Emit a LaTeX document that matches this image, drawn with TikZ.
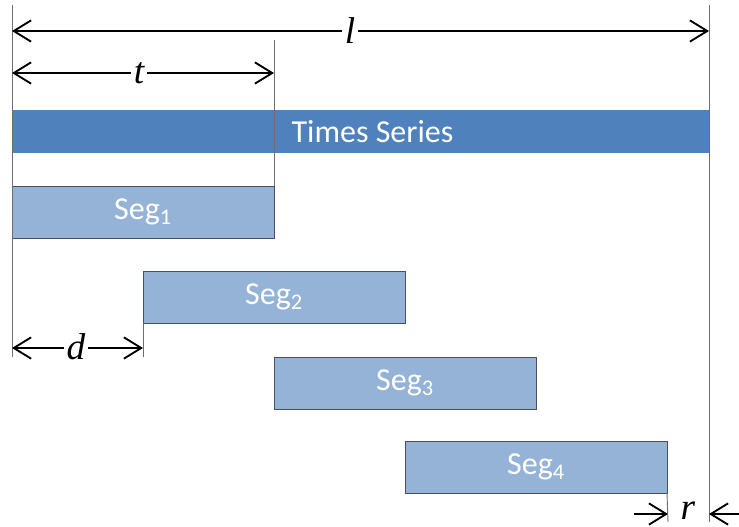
\documentclass[tikz,border=0pt]{standalone}
\usepackage{fontspec}
\setmainfont{Carlito}
\newfontfamily\dimfont{Liberation Serif}
\usetikzlibrary{arrows.meta}
\definecolor{darkbar}{HTML}{4F81BD}
\definecolor{lightbar}{HTML}{95B3D7}
\definecolor{segborder}{RGB}{70,80,95}
\definecolor{guide}{RGB}{110,110,110}
\tikzset{
  bigbar/.style={fill=darkbar, draw=none, anchor=north west, inner sep=0pt, outer sep=0pt,
    minimum width=522.75pt, minimum height=32.25pt, text=white, font=\fontsize{24}{26}\selectfont},
  segbox/.style={fill=lightbar, draw=segborder, line width=0.6pt, anchor=north west, inner sep=0pt, outer sep=0pt,
    minimum width=196.5pt, minimum height=39pt, text=white, font=\fontsize{24}{26}\selectfont},
  guideline/.style={draw=guide, line width=0.7pt},
  dimline/.style={draw=black, line width=1.4pt},
  dimtip/.style={-{Straight Barb[length=13pt,width=16pt,line width=1.4pt]}},
  dimboth/.style={{Straight Barb[length=13pt,width=16pt,line width=1.4pt]}-{Straight Barb[length=13pt,width=16pt,line width=1.4pt]}},
  dimlabel/.style={fill=white, inner sep=2pt, font=\dimfont\itshape\fontsize{28}{30}\selectfont},
}
\begin{document}
\begin{tikzpicture}[x=0.75pt,y=-0.75pt]
\useasboundingbox (0,0) rectangle (739,526);
% bars
\node[bigbar] (ts) at (12,110) {\hspace*{18pt}Times Series};
\node[segbox] (s1) at (12,186) {Seg\textsubscript{1}};
\node[segbox] (s2) at (143,271) {Seg\textsubscript{2}};
\node[segbox] (s3) at (274,357) {Seg\textsubscript{3}};
\node[segbox] (s4) at (405,441) {Seg\textsubscript{4}};
% guide coordinates
\coordinate (Ltop) at (12,5);
\coordinate (Lbot) at (12,357);
\coordinate (Rtop) at (709,5);
\coordinate (Rbot) at (709,522);
\coordinate (Ttop) at (274,40);
\coordinate (Dbot) at (143,357);
\coordinate (Ebot) at (668,522);
% guide lines
\draw[guideline] (Ltop) -- (Lbot);
\draw[guideline] (Rtop) -- (Rbot);
\draw[guideline] (Ttop) -- (s1.north east);
\draw[guideline] (s2.south west) -- (Dbot);
\draw[guideline] (s4.south east) -- (Ebot);
% dimension arrow coordinates
\coordinate (la) at (12,31);
\coordinate (lb) at (709,31);
\coordinate (ta) at (12,73);
\coordinate (tb) at (274,73);
\coordinate (da) at (12,348);
\coordinate (db) at (143,348);
\coordinate (ra) at (634,514);
\coordinate (rb) at (668,514);
\coordinate (rc) at (739,514);
\coordinate (rd) at (709,514);
% dimension arrows
\draw[dimline, dimboth] (la) -- (lb);
\node[dimlabel] (lab-l) at (350,31) {l};
\draw[dimline, dimboth] (ta) -- (tb);
\node[dimlabel] (lab-t) at (139,73) {t};
\draw[dimline, dimboth] (da) -- (db);
\node[dimlabel] (lab-d) at (76,347) {d};
\draw[dimline, dimtip] (ra) -- (rb);
\draw[dimline, dimtip] (rc) -- (rd);
\node[dimlabel, fill=none] (lab-r) at (688,511) {r};
\end{tikzpicture}
\end{document}
